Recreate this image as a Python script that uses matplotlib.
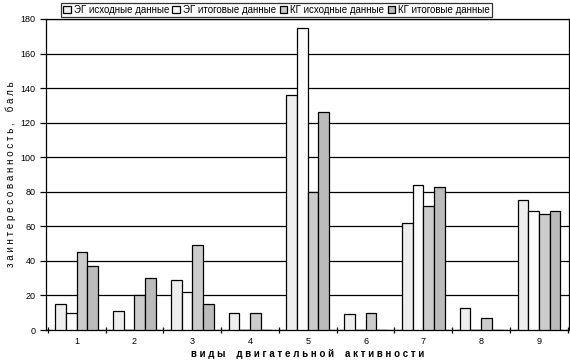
import numpy as np
import matplotlib.pyplot as plt

plt.rcParams['font.family'] = ['Liberation Sans', 'DejaVu Sans']

# Виды двигательной активности
categories = ['1', '2', '3', '4', '5', '6', '7', '8', '9']

eg_before = [15, 11, 29, 10, 136, 9, 62, 13, 75]
eg_after  = [10, 0, 22, 0, 175, 0, 84, 0, 69]
kg_before = [45, 20, 49, 10, 80, 10, 72, 7, 67]
kg_after  = [37, 30, 15, 0, 126, 0, 83, 0, 69]

series = [eg_before, eg_after, kg_before, kg_after]
labels = ['ЭГ исходные данные', 'ЭГ итоговые данные',
          'КГ исходные данные', 'КГ итоговые данные']
colors = ['#eeeeee', '#fbfbfb', '#cccccc', '#bbbbbb']

def spaced(s):
    return ' '.join(s).replace('   ', '    ')

fig = plt.figure(figsize=(5.7, 3.6), dpi=100)
ax = fig.add_axes([46/570, 30/360, 523/570, 311/360])

x = np.arange(len(categories))
w = 0.185
for k, (vals, lab, col) in enumerate(zip(series, labels, colors)):
    ax.bar(x + (k - 1.5) * w, vals, w, color=col, edgecolor='black',
           linewidth=0.9, label=lab, zorder=3)

ax.set_xlim(-0.53, 8.52)
ax.set_ylim(0, 180)
ax.set_yticks(np.arange(0, 181, 20))
ax.yaxis.grid(True, color='black', linewidth=0.9, zorder=0)
ax.set_axisbelow(True)

ax.set_xticks(x)
ax.set_xticklabels(categories, fontsize=6.5)
ax.set_xticks(np.arange(-0.5, 9, 1), minor=True)
ax.tick_params(axis='x', which='major', length=0, pad=5)
ax.tick_params(axis='x', which='minor', length=4, width=0.9, direction='inout')
ax.tick_params(axis='y', labelsize=6.5, length=4, width=0.9, direction='out')

for sp in ax.spines.values():
    sp.set_linewidth(0.9)

ax.set_xlabel(spaced('виды двигательной активности'), fontsize=7, fontweight='bold', labelpad=2)
ax.set_ylabel(spaced('заинтересованность, баль'), fontsize=7, labelpad=3)

leg = fig.legend(loc='upper left', bbox_to_anchor=(58/570, 1.0), ncol=4,
                 fontsize=7, frameon=True, fancybox=False, edgecolor='black',
                 handlelength=0.8, handleheight=0.8, handletextpad=0.3,
                 columnspacing=0.35, borderpad=0.2, borderaxespad=0.3)
leg.get_frame().set_linewidth(0.9)

fig.savefig('out.png', dpi=100)
